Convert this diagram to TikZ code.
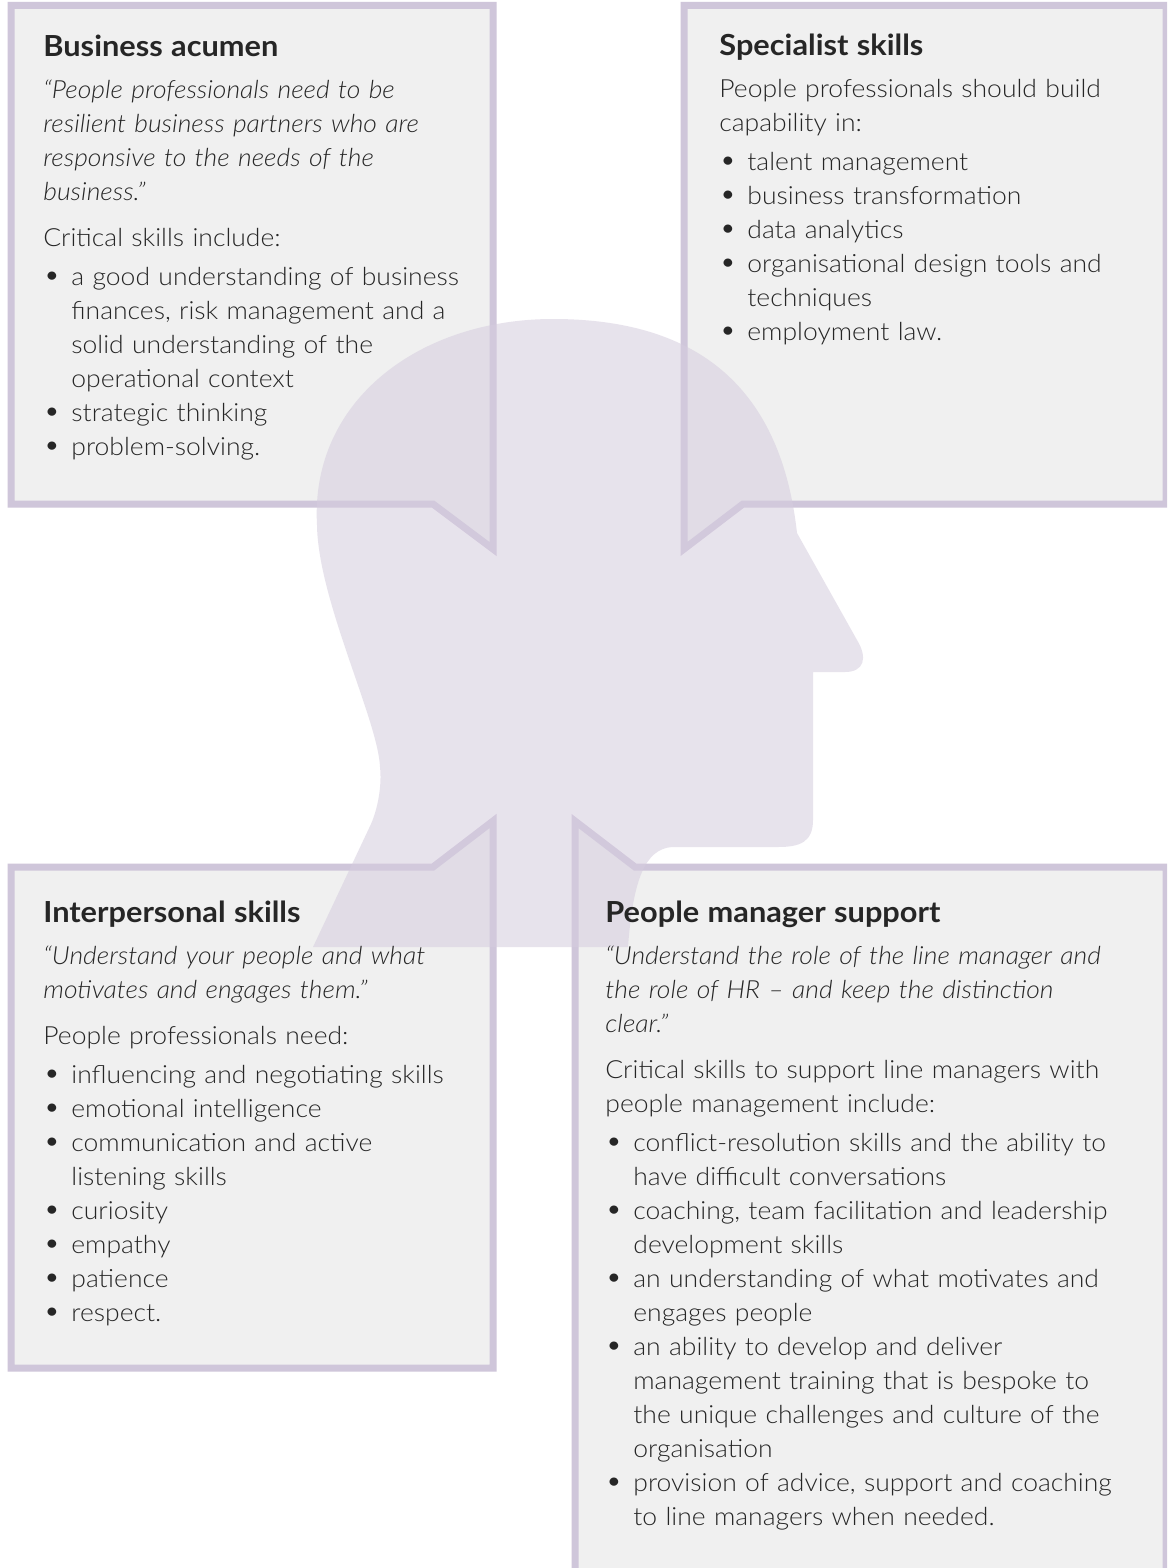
\documentclass[tikz,border=0pt]{standalone}
\usepackage{fontspec}
\setmainfont{Lato}[FakeStretch=1.06,UprightFont={* Light},ItalicFont={* Light Italic},BoldFont={* Bold}]
\definecolor{boxfill}{HTML}{F0F0F0}
\definecolor{boxline}{HTML}{CFC6DA}
\definecolor{headfill}{HTML}{D5CCDE}
\definecolor{ink}{HTML}{262626}
\setlength{\parindent}{0pt}
\setlength{\parskip}{0pt}
% heading, quotation, lead-in line and bullet item of a panel
\newcommand{\panelhead}[1]{{\fontsize{14.5}{17}\bfseries\selectfont #1\strut\par}\vspace{4pt}}
\newcommand{\panelquote}[1]{{\itshape #1\par}\vspace{6pt}}
\newcommand{\panellead}[1]{#1\par\vspace{2.5pt}}
\newcommand{\panelitem}[1]{\hangindent=14pt\hangafter=1\noindent\makebox[14pt][l]{\raisebox{0.3pt}{\fontsize{14}{17}\selectfont\textbullet}}#1\par}
\begin{document}
\begin{tikzpicture}[x=0.5pt,y=-0.5pt,
  panel/.style={fill=boxfill,draw=boxline,line width=3.5pt,line join=miter},
  txt/.style={anchor=north west,inner sep=0pt,align=left,text=ink,
    font=\fontsize{12.5}{17}\selectfont}]
\useasboundingbox (0,0) rectangle (1167,1568);
\clip (0,0) rectangle (1167,1568);
\fill[white] (0,0) rectangle (1167,1568);

% speech-bubble panels
\draw[panel] (11,5.5) -- (493,5.5) -- (493,549) -- (433,504) -- (11,504) -- cycle;
\draw[panel] (684,5.5) -- (1166,5.5) -- (1166,504) -- (743,504) -- (684,549) -- cycle;
\draw[panel] (11,867) -- (433,867) -- (493,821) -- (493,1368) -- (11,1368) -- cycle;
\draw[panel] (575,821) -- (635,867) -- (1166,867) -- (1166,1620) -- (575,1620) -- cycle;

% head silhouette
\fill[headfill,fill opacity=0.55]
  (313,947) -- (371,824)
  .. controls (378,808) and (382,785) .. (380,767)
  .. controls (378,720) and (318,600) .. (317,525)
  .. controls (310,400) and (420,319) .. (553,319)
  .. controls (690,319) and (780,380) .. (797,533)
  -- (857,640)
  .. controls (868,658) and (864,672) .. (845,672)
  -- (813,672) -- (813,820)
  .. controls (813,842) and (800,847) .. (778,847)
  -- (672,847)
  .. controls (645,849) and (633,880) .. (628,947)
  -- cycle;

% panel texts
\node[txt,text width=225pt] (acumen) at (43,32.2) {%
\panelhead{Business acumen}
\panelquote{“People professionals need to be\newline resilient business partners who are\newline responsive to the needs of the\newline business.”}
\panellead{Critical skills include:}
\panelitem{a good understanding of business\newline finances, risk management and a\newline solid understanding of the\newline operational context}
\panelitem{strategic thinking}
\panelitem{problem-solving.}};

\node[txt,text width=222pt] (specialist) at (719,31.2) {%
\panelhead{Specialist skills}
\panellead{People professionals should build\newline capability in:}
\panelitem{talent management}
\panelitem{business transformation}
\panelitem{data analytics}
\panelitem{organisational design tools and\newline techniques}
\panelitem{employment law.}};

\node[txt,text width=225pt] (interpersonal) at (43,898.2) {%
\panelhead{Interpersonal skills}
\panelquote{“Understand your people and what\newline motivates and engages them."}
\panellead{People professionals need:}
\panelitem{influencing and negotiating skills}
\panelitem{emotional intelligence}
\panelitem{communication and active\newline listening skills}
\panelitem{curiosity}
\panelitem{empathy}
\panelitem{patience}
\panelitem{respect.}};

\node[txt,text width=278pt] (manager) at (605,898.2) {%
\panelhead{People manager support}
\panelquote{“Understand the role of the line manager and\newline the role of HR – and keep the distinction\newline clear."}
\panellead{Critical skills to support line managers with\newline people management include:}
\panelitem{conflict-resolution skills and the ability to\newline have difficult conversations}
\panelitem{coaching, team facilitation and leadership\newline development skills}
\panelitem{an understanding of what motivates and\newline engages people}
\panelitem{an ability to develop and deliver\newline management training that is bespoke to\newline the unique challenges and culture of the\newline organisation}
\panelitem{provision of advice, support and coaching\newline to line managers when needed.}};
\end{tikzpicture}
\end{document}
